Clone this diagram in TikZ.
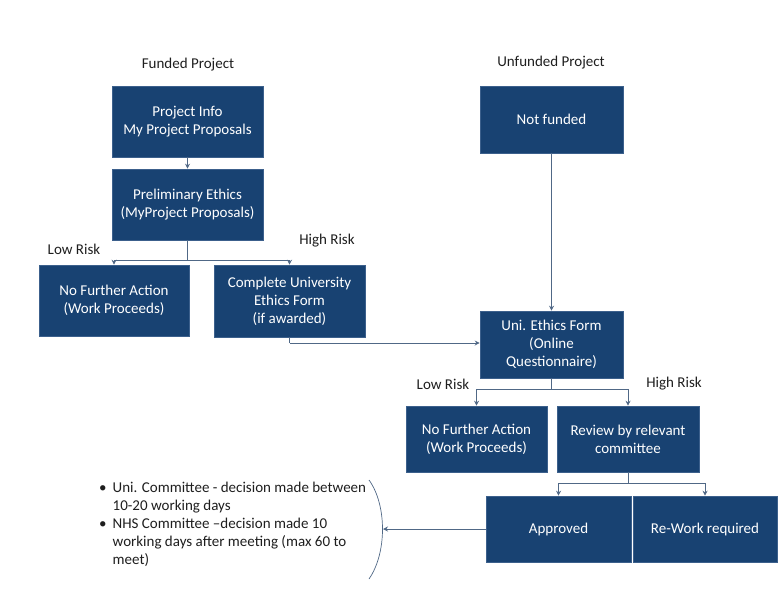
\documentclass[tikz,border=0pt]{standalone}
\usepackage{fontspec}
\setmainfont{Carlito}
\usetikzlibrary{arrows.meta}
\definecolor{navy}{RGB}{24,66,114}
\definecolor{navyedge}{RGB}{60,96,140}
\definecolor{linec}{RGB}{80,104,134}
\definecolor{txt}{RGB}{30,30,30}
\tikzset{
  box/.style={draw=navyedge, line width=0.6pt, fill=navy, text=white, align=center,
    font=\fontsize{15pt}{18pt}\selectfont, inner sep=0pt},
  lbl/.style={text=txt, font=\fontsize{15pt}{18pt}\selectfont, inner sep=0pt},
  conn/.style={draw=linec, line width=0.9pt},
  arr/.style={conn, -{Stealth[length=5pt,width=5pt]}},
}
\begin{document}
\begin{tikzpicture}[x=1pt,y=-1pt]
\useasboundingbox (0,0) rectangle (783,607);
% boxes
\node[box, minimum width=151pt, minimum height=71pt] (A) at (187.5,121.5) {Project Info\\My Project Proposals};
\node[box, minimum width=151pt, minimum height=71pt] (B) at (187.5,204.5) {Preliminary Ethics\\(MyProject Proposals)};
\node[box, minimum width=143pt, minimum height=67pt] (C) at (551.5,119.5) {Not funded};
\node[box, minimum width=150pt, minimum height=71pt] (D) at (114,300.5) {No Further Action\\(Work Proceeds)};
\node[box, minimum width=151pt, minimum height=72pt] (E) at (289.5,301) {Complete University\\Ethics Form\\(if awarded)};
\node[box, minimum width=143pt, minimum height=67pt] (F) at (551.5,344.5) {Uni. Ethics Form\\(Online\\Questionnaire)};
\node[box, minimum width=141pt, minimum height=66pt] (G) at (476.5,439) {No Further Action\\(Work Proceeds)};
\node[box, minimum width=142pt, minimum height=66pt] (H) at (628,439) {Review by relevant\\committee};
\node[box, minimum width=145pt, minimum height=66pt] (I) at (558.5,529) {Approved};
\node[box, minimum width=144pt, minimum height=66pt] (J) at (705,529) {Re-Work required};
% labels
\node[lbl] (lf) at (188,65) {Funded Project};
\node[lbl] (lu) at (551,63) {Unfunded Project};
\node[lbl] (lr1) at (74,249) {Low Risk};
\node[lbl] (hr1) at (327,241) {High Risk};
\node[lbl] (lr2) at (443,384) {Low Risk};
\node[lbl] (hr2) at (674,384) {High Risk};
% connectors
\draw[arr] (A) -- (B);
\draw[conn] (B.south) -- (187.5,260) coordinate (b1);
\draw[arr] (b1) -| (D.north);
\draw[arr] (b1) -| (E.north);
\draw[conn] (E.south) -- (289.5,343) coordinate (e1);
\draw[arr] (e1) -- (F.west |- e1);
\draw[arr] (C) -- (F);
\draw[conn] (F.south) -- (551.5,389) coordinate (f1);
\draw[arr] (f1) -| (G.north);
\draw[arr] (f1) -| (H.north);
\draw[conn] (H.south) -- (628,483) coordinate (h1);
\draw[arr] (h1) -| (I.north);
\draw[arr] (h1) -| (J.north);
% brace
\coordinate (br1) at (369,480);
\coordinate (br2) at (369,579);
\coordinate (brm) at (383,529);
\draw[draw=linec, line width=0.7pt] (br1) .. controls (387,505) and (387,553) .. (br2);
\draw[arr] (I.west) -- (brm);
% bullets
\node[lbl, anchor=north west] (notes) at (99,480) {%
\begin{tabular}{@{}l@{\hspace{6pt}}l@{}}
\textbullet & Uni. Committee - decision made between\\
 & 10-20 working days\\
\textbullet & NHS Committee –decision made 10\\
 & working days after meeting (max 60 to\\
 & meet)
\end{tabular}};
\end{tikzpicture}
\end{document}
